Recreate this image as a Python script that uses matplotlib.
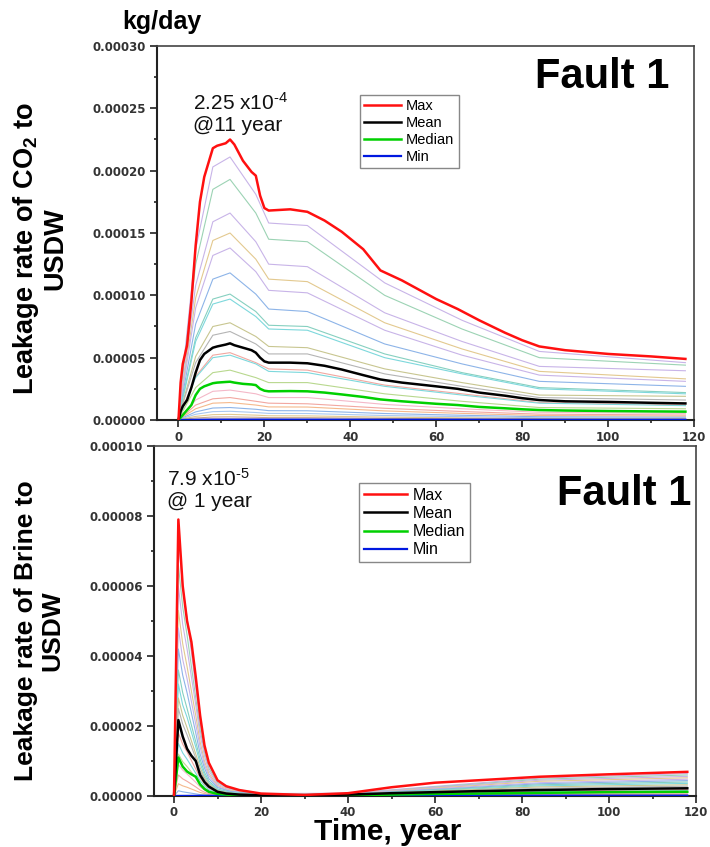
import numpy as np
import matplotlib.pyplot as plt
from matplotlib.ticker import MultipleLocator, FormatStrFormatter

plt.rcParams['font.family'] = ['Liberation Sans', 'DejaVu Sans']
plt.rcParams['mathtext.fontset'] = 'custom'
plt.rcParams['mathtext.rm'] = 'Liberation Sans'
plt.rcParams['mathtext.bf'] = 'Liberation Sans:bold'
plt.rcParams['mathtext.it'] = 'Liberation Sans:italic'

# ---------------- CO2 leakage to USDW (values in 1e-5 kg/day) ----------------
co2_years = [0, 0.5, 1, 2, 3, 4, 5, 6, 8, 9, 11, 12, 13, 15, 17, 18, 19, 20, 21,
             26, 30, 34, 38, 43, 47, 52, 60, 65, 70, 76, 80, 84, 90, 100, 110, 118]
co2_max = [0, 3, 4.5, 6, 9.5, 14, 17.5, 19.5, 21.8, 22, 22.2, 22.5, 22.1, 20.8, 19.9, 19.6, 18, 17, 16.8,
           16.9, 16.7, 16.0, 15.1, 13.7, 12.0, 11.2, 9.7, 8.9, 8.0, 7.0, 6.4, 5.9, 5.6, 5.3, 5.1, 4.9]
co2_mean = [0, 0.7, 1.1, 1.6, 2.6, 3.8, 4.8, 5.3, 5.8, 5.9, 6.05, 6.15, 6.0, 5.8, 5.6, 5.4, 5.0, 4.7, 4.6,
            4.6, 4.55, 4.35, 4.05, 3.6, 3.25, 3.0, 2.7, 2.5, 2.2, 1.95, 1.75, 1.6, 1.5, 1.45, 1.38, 1.33]
co2_median = [0, 0.2, 0.4, 0.8, 1.2, 2.0, 2.5, 2.7, 2.95, 3.0, 3.05, 3.07, 3.0, 2.9, 2.85, 2.8, 2.5, 2.35, 2.3,
              2.32, 2.3, 2.2, 2.05, 1.85, 1.65, 1.5, 1.3, 1.2, 1.05, 0.94, 0.86, 0.8, 0.76, 0.72, 0.69, 0.67]
co2_min_years = [0, 20, 60, 118]
co2_min = [0, 0.02, 0.02, 0.02]

# individual realizations (thin lines), read at these years
co2_run_years = [0, 1, 4, 8, 12, 18, 21, 30, 48, 66, 84, 118]
co2_runs = [
    [0, 3.8, 13.7, 20.3, 21.1, 18.1, 15.8, 15.6, 11.0, 8.0, 5.5, 4.6],
    [0, 3.5, 12.5, 18.5, 19.3, 16.6, 14.5, 14.3, 10.0, 7.3, 5.0, 4.4],
    [0, 3.0, 10.8, 15.9, 16.6, 14.3, 12.5, 12.3, 8.6, 6.3, 4.3, 3.95],
    [0, 2.7, 9.8, 14.4, 15.0, 12.9, 11.3, 11.1, 7.8, 5.7, 3.9, 3.3],
    [0, 2.5, 9.0, 13.2, 13.8, 11.9, 10.4, 10.2, 7.2, 5.2, 3.6, 3.1],
    [0, 2.1, 7.7, 11.3, 11.8, 10.1, 8.9, 8.7, 6.1, 4.5, 3.1, 2.7],
    [0, 1.8, 6.6, 9.7, 10.1, 8.7, 7.6, 7.5, 5.3, 3.8, 2.6, 2.2],
    [0, 1.7, 6.3, 9.3, 9.7, 8.3, 7.3, 7.2, 5.0, 3.7, 2.5, 2.1],
    [0, 1.4, 5.1, 7.5, 7.8, 6.7, 5.9, 5.8, 4.1, 3.0, 2.0, 1.9],
    [0, 1.3, 4.6, 6.8, 7.1, 6.1, 5.3, 5.3, 3.7, 2.7, 1.8, 1.6],
    [0, 1.0, 3.5, 5.2, 5.4, 4.6, 4.1, 4.0, 2.8, 2.1, 1.4, 1.2],
    [0, 0.9, 3.4, 5.0, 5.2, 4.5, 3.9, 3.8, 2.7, 2.0, 1.35, 1.15],
    [0, 0.7, 2.6, 3.8, 4.0, 3.4, 3.0, 3.0, 2.1, 1.5, 1.0, 0.9],
    [0, 0.4, 1.6, 2.3, 2.4, 2.1, 1.8, 1.8, 1.25, 0.9, 0.62, 0.53],
    [0, 0.3, 1.2, 1.7, 1.8, 1.5, 1.35, 1.3, 0.94, 0.68, 0.47, 0.4],
    [0, 0.25, 0.9, 1.35, 1.4, 1.2, 1.05, 1.04, 0.73, 0.53, 0.36, 0.31],
    [0, 0.18, 0.65, 0.96, 1.0, 0.86, 0.75, 0.74, 0.52, 0.38, 0.26, 0.22],
    [0, 0.13, 0.46, 0.67, 0.7, 0.6, 0.53, 0.52, 0.36, 0.27, 0.18, 0.15],
    [0, 0.08, 0.29, 0.43, 0.45, 0.39, 0.34, 0.33, 0.23, 0.17, 0.12, 0.1],
    [0, 0.05, 0.16, 0.24, 0.25, 0.22, 0.19, 0.19, 0.13, 0.1, 0.07, 0.06],
    [0, 0.02, 0.07, 0.1, 0.1, 0.09, 0.08, 0.07, 0.05, 0.04, 0.03, 0.02],
]

# ---------------- Brine leakage to USDW (values in 1e-5 kg/day) ----------------
brine_years = [0, 1, 2, 3, 4, 5, 6, 7, 8, 10, 12, 15, 20, 30, 40, 50, 60, 70, 84, 100, 118]
brine_max = [0, 7.9, 6.0, 5.0, 4.4, 3.4, 2.3, 1.45, 0.95, 0.45, 0.28, 0.17, 0.07, 0.03, 0.08,
             0.25, 0.38, 0.45, 0.55, 0.62, 0.69]
brine_mean = [0, 2.17, 1.7, 1.35, 1.15, 1.0, 0.6, 0.4, 0.27, 0.12, 0.07, 0.04, 0.02, 0.02, 0.04,
              0.08, 0.11, 0.14, 0.17, 0.2, 0.22]
brine_median = [0, 1.1, 0.84, 0.7, 0.62, 0.55, 0.33, 0.2, 0.12, 0.06, 0.04, 0.02, 0.01, 0.01, 0.02,
                0.04, 0.06, 0.07, 0.09, 0.11, 0.12]
brine_min_years = [0, 20, 60, 118]
brine_min = [0, 0.01, 0.01, 0.01]

brine_run_years = [0, 1, 2, 3, 5, 6, 7, 8, 10, 13, 20, 40, 84, 118]
brine_runs = [
    [0, 7.3, 6.0, 5.1, 3.1, 2.1, 1.4, 0.88, 0.42, 0.22, 0.07, 0.08, 0.51, 0.64],
    [0, 6.6, 5.4, 4.6, 2.8, 1.9, 1.25, 0.8, 0.38, 0.2, 0.06, 0.07, 0.48, 0.60],
    [0, 6.0, 4.9, 4.2, 2.6, 1.75, 1.15, 0.72, 0.34, 0.18, 0.05, 0.07, 0.45, 0.56],
    [0, 5.3, 4.35, 3.7, 2.3, 1.55, 1.0, 0.64, 0.3, 0.16, 0.05, 0.06, 0.42, 0.52],
    [0, 4.8, 3.9, 3.35, 2.05, 1.4, 0.9, 0.58, 0.27, 0.14, 0.04, 0.06, 0.38, 0.48],
    [0, 4.2, 3.45, 2.95, 1.8, 1.2, 0.8, 0.5, 0.24, 0.13, 0.04, 0.05, 0.35, 0.44],
    [0, 3.6, 2.95, 2.5, 1.55, 1.05, 0.68, 0.43, 0.2, 0.11, 0.03, 0.05, 0.32, 0.40],
    [0, 3.2, 2.6, 2.25, 1.4, 0.93, 0.6, 0.38, 0.18, 0.1, 0.03, 0.04, 0.29, 0.36],
    [0, 2.8, 2.3, 1.95, 1.2, 0.81, 0.53, 0.34, 0.16, 0.08, 0.03, 0.04, 0.26, 0.32],
    [0, 2.5, 2.05, 1.75, 1.08, 0.72, 0.48, 0.3, 0.14, 0.08, 0.02, 0.03, 0.22, 0.28],
    [0, 1.8, 1.48, 1.26, 0.77, 0.52, 0.34, 0.22, 0.1, 0.05, 0.02, 0.02, 0.14, 0.18],
    [0, 1.5, 1.23, 1.05, 0.65, 0.44, 0.29, 0.18, 0.09, 0.05, 0.01, 0.02, 0.12, 0.15],
    [0, 1.2, 0.98, 0.84, 0.52, 0.35, 0.23, 0.14, 0.07, 0.04, 0.01, 0.01, 0.1, 0.12],
    [0, 0.9, 0.74, 0.63, 0.39, 0.26, 0.17, 0.11, 0.05, 0.03, 0.01, 0.01, 0.07, 0.09],
    [0, 0.6, 0.49, 0.42, 0.26, 0.17, 0.11, 0.07, 0.03, 0.02, 0.0, 0.01, 0.05, 0.06],
    [0, 0.35, 0.29, 0.25, 0.15, 0.1, 0.07, 0.04, 0.02, 0.01, 0, 0, 0.03, 0.035],
    [0, 0.15, 0.12, 0.1, 0.06, 0.04, 0.03, 0.02, 0.01, 0, 0, 0, 0.01, 0.015],
]

# pastel colours used for the thin realization lines
run_colors = ['#c8b4e8', '#9cd3b4', '#c8b4e8', '#e3c98f', '#c8b4e8', '#8db4e8', '#86d0c0',
              '#7dd8dc', '#c8c690', '#b4b4b4', '#f2a7a0', '#7dd8dc', '#b8d88e', '#f4b8c8',
              '#f2a7a0', '#f5b98c', '#8db4e8', '#a8c8f0', '#e3c98f', '#c8a890', '#9a8cc8']

SCALE = 1e-5
W, H = 710, 847

fig = plt.figure(figsize=(W / 100, H / 100), dpi=100)
ax1 = fig.add_axes([157 / W, 1 - 420 / H, 537 / W, 374 / H])
ax2 = fig.add_axes([154 / W, 1 - 796 / H, 542 / W, 350 / H])


def draw_panel(ax, run_years, runs, years, vmax, vmean, vmed, min_years, vmin):
    for i, row in enumerate(runs):
        ax.plot(run_years, np.array(row) * SCALE, color=run_colors[i % len(run_colors)],
                lw=0.8, zorder=1)
    ax.plot(min_years, np.array(vmin) * SCALE, color='#0018e0', lw=1.6, zorder=3, label='Min')
    ax.plot(years, np.array(vmed) * SCALE, color='#00d000', lw=1.8, zorder=3, label='Median')
    ax.plot(years, np.array(vmean) * SCALE, color='black', lw=1.8, zorder=3, label='Mean')
    ax.plot(years, np.array(vmax) * SCALE, color='#ff1010', lw=1.8, zorder=4, label='Max')


def style_axes(ax, ymax, ystep):
    ax.set_xlim(-5, 120)
    ax.set_ylim(0, ymax)
    ax.xaxis.set_major_locator(MultipleLocator(20))
    ax.xaxis.set_minor_locator(MultipleLocator(10))
    ax.yaxis.set_major_locator(MultipleLocator(ystep))
    ax.yaxis.set_minor_locator(MultipleLocator(ystep / 2))
    ax.yaxis.set_major_formatter(FormatStrFormatter('%.5f'))
    ax.tick_params(which='both', direction='out', top=False, right=False, color='#222222', width=1.2)
    ax.tick_params(which='major', length=5, labelsize=8.5, labelcolor='#333333', pad=3)
    ax.tick_params(which='minor', length=2.5)
    for lab in ax.get_xticklabels() + ax.get_yticklabels():
        lab.set_family('DejaVu Sans')
        lab.set_weight('bold')
    for side in ['left', 'bottom']:
        ax.spines[side].set_linewidth(1.5)
        ax.spines[side].set_color('#222222')
    for side in ['top', 'right']:
        ax.spines[side].set_linewidth(1.2)
        ax.spines[side].set_color('#444444')


draw_panel(ax1, co2_run_years, co2_runs, co2_years, co2_max, co2_mean, co2_median, co2_min_years, co2_min)
draw_panel(ax2, brine_run_years, brine_runs, brine_years, brine_max, brine_mean, brine_median,
           brine_min_years, brine_min)
style_axes(ax1, 0.0003, 0.00005)
style_axes(ax2, 0.0001, 0.00002)
ax2.set_xlim(-4.6, 120)
ax2.tick_params(axis='x', which='major', pad=2)

order = ['Max', 'Mean', 'Median', 'Min']
for ax, anchor, fs, hl in [(ax1, (360 / W, 1 - 95 / H), 10.5, 2.5), (ax2, (359 / W, 1 - 483 / H), 11.5, 2.7)]:
    handles, labels = ax.get_legend_handles_labels()
    hmap = dict(zip(labels, handles))
    leg = ax.legend([hmap[k] for k in order], order, loc='upper left', bbox_to_anchor=anchor,
                    bbox_transform=fig.transFigure, fontsize=fs, frameon=True, fancybox=False,
                    edgecolor='#888888', framealpha=1, handlelength=hl, handletextpad=0.35,
                    labelspacing=0.2, borderpad=0.3, borderaxespad=0)
    leg.get_frame().set_linewidth(1.0)

# labels and annotations
fig.text(162 / W, 1 - 22 / H, 'kg/day', ha='center', va='center', fontsize=18, weight='bold')
fig.text(40 / W, 1 - 249 / H, 'Leakage rate of CO$_\\mathbf{2}$ to\nUSDW', rotation=90,
         ha='center', va='center', multialignment='center', fontsize=19.5, weight='bold',
         linespacing=1.05)
fig.text(39 / W, 1 - 631 / H, 'Leakage rate of Brine to\nUSDW', rotation=90,
         ha='center', va='center', multialignment='center', fontsize=19, weight='bold',
         linespacing=1.1)
fig.text(388 / W, 1 - 840 / H, 'Time, year', ha='center', va='baseline', fontsize=21.5, weight='bold')
fig.text(602 / W, 1 - 77 / H, 'Fault 1', ha='center', va='center', fontsize=30, weight='bold')
fig.text(624 / W, 1 - 494 / H, 'Fault 1', ha='center', va='center', fontsize=30, weight='bold')
fig.text(193 / W, 1 - 92 / H, '2.25 x10$^{\\text{-}4}$\n@11 year', ha='left', va='top', fontsize=15,
         linespacing=1.15, color='#111111')
fig.text(167 / W, 1 - 468 / H, '7.9 x10$^{\\text{-}5}$\n@ 1 year', ha='left', va='top', fontsize=15,
         linespacing=1.15, color='#111111')

fig.savefig('out.png', dpi=100)
